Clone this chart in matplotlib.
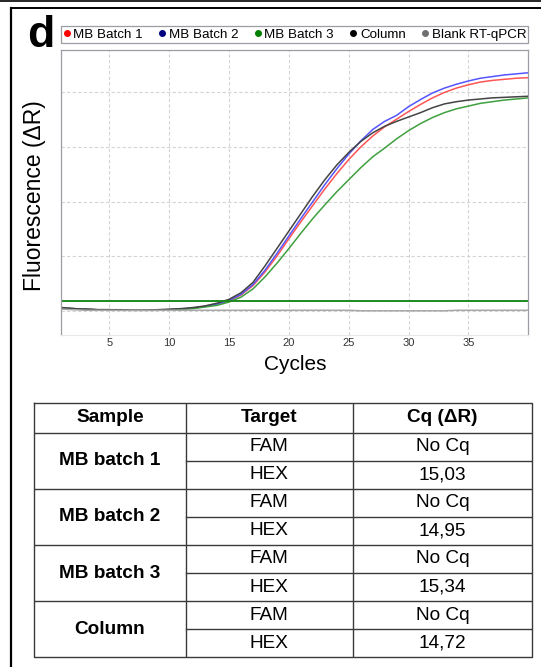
import matplotlib.pyplot as plt
from matplotlib.lines import Line2D
import numpy as np

plt.rcParams['font.family'] = ['Liberation Sans', 'DejaVu Sans']

# curvas de amplificación (ΔR) por ciclo
cycles = np.arange(1, 41)
mb_batch1 = [0.05, 0.04, 0.03, 0.02, 0.02, 0.01, 0.01, 0.01, 0.01, 0.02,
             0.03, 0.05, 0.08, 0.12, 0.18, 0.29, 0.46, 0.71, 1.00, 1.32,
             1.63, 1.93, 2.23, 2.51, 2.77, 3.00, 3.20, 3.37, 3.51, 3.65,
             3.78, 3.90, 4.00, 4.08, 4.14, 4.19, 4.22, 4.24, 4.26, 4.27]
mb_batch2 = [0.05, 0.04, 0.03, 0.02, 0.02, 0.01, 0.01, 0.01, 0.01, 0.02,
             0.03, 0.05, 0.08, 0.12, 0.19, 0.30, 0.48, 0.74, 1.05, 1.37,
             1.69, 2.00, 2.31, 2.60, 2.87, 3.11, 3.32, 3.47, 3.58, 3.74,
             3.87, 3.99, 4.08, 4.15, 4.21, 4.26, 4.29, 4.32, 4.34, 4.36]
mb_batch3 = [0.05, 0.04, 0.03, 0.02, 0.02, 0.01, 0.01, 0.01, 0.01, 0.02,
             0.03, 0.04, 0.07, 0.10, 0.16, 0.25, 0.40, 0.62, 0.87, 1.14,
             1.42, 1.69, 1.94, 2.18, 2.40, 2.62, 2.82, 2.98, 3.15, 3.30,
             3.43, 3.54, 3.63, 3.70, 3.75, 3.80, 3.83, 3.86, 3.88, 3.90]
column = [0.06, 0.04, 0.03, 0.02, 0.02, 0.02, 0.01, 0.01, 0.02, 0.03,
          0.04, 0.06, 0.09, 0.14, 0.21, 0.33, 0.52, 0.82, 1.14, 1.46,
          1.78, 2.10, 2.40, 2.67, 2.90, 3.10, 3.26, 3.38, 3.47, 3.55,
          3.63, 3.72, 3.79, 3.83, 3.86, 3.88, 3.90, 3.91, 3.92, 3.93]
blank = [0.03, 0.02, 0.01, 0.01, 0.01, 0.01, 0.01, 0.01, 0.01, 0.01,
         0.01, 0.01, 0.01, 0.01, 0.01, 0.01, 0.01, 0.01, 0.01, 0.01,
         0.01, 0.01, 0.01, 0.01, 0.01, 0.00, 0.00, 0.00, 0.00, 0.00,
         0.00, 0.00, 0.00, 0.01, 0.01, 0.01, 0.01, 0.01, 0.01, 0.01]
threshold = 0.185

series = [('MB Batch 1', mb_batch1), ('MB Batch 2', mb_batch2),
          ('MB Batch 3', mb_batch3), ('Column', column),
          ('Blank RT-qPCR', blank)]
line_colors = ['#ff5555', '#5555ff', '#3fa03f', '#444444', '#a8a8a8']
dot_colors = ['#ff0000', '#000080', '#008000', '#000000', '#707070']

# tabla de Cq
samples = ['MB batch 1', 'MB batch 2', 'MB batch 3', 'Column']
targets = ['FAM', 'HEX']
cq_values = [['No Cq', '15,03'], ['No Cq', '14,95'],
             ['No Cq', '15,34'], ['No Cq', '14,72']]
headers = ['Sample', 'Target', 'Cq (\u0394R)']

W, H = 541, 667
fig = plt.figure(figsize=(W / 100, H / 100), dpi=100)

# gráfico
ax = fig.add_axes([61.4 / W, 1 - 334.5 / H, (528.3 - 61.4) / W, (334.5 - 50) / H])
for (name, vals), c in zip(series, line_colors):
    ax.plot(cycles, vals, color=c, lw=1.1)
ax.axhline(threshold, color='#1f8a1f', lw=1.4)
ax.set_xlim(1, 40)
ax.set_ylim(-0.434, 4.777)
ax.set_xticks(range(5, 40, 5))
ax.set_yticks(range(0, 5))
ax.set_yticklabels([])
ax.tick_params(length=0, labelsize=8, labelcolor='#333333', pad=2.5)
ax.grid(True, color='#d4d4d4', lw=0.8, ls=(0, (3, 2)))
for s in ['top', 'left', 'right']:
    ax.spines[s].set_color('#9c9ca4')
    ax.spines[s].set_linewidth(0.9)
ax.spines['bottom'].set_color('#e8e8e8')

ax.set_xlabel('Cycles', fontsize=15)
ax.xaxis.set_label_coords(0.5, -(365 - 334.5) / 284.5)
ax.xaxis.label.set_va('center')
ax.set_ylabel('Fluorescence (\u0394R)', fontsize=16.5)
ax.yaxis.set_label_coords(-(61.4 - 35) / 466.9, (334.5 - 195.5) / 284.5)
ax.yaxis.label.set_va('center')

handles = [Line2D([], [], ls='none', marker='o', ms=4, color=c) for c in dot_colors]
leg = ax.legend(handles, [n for n, _ in series], ncol=5, mode='expand',
                loc='lower left', bbox_to_anchor=(0, 1.026, 1, 0.05),
                borderaxespad=0, borderpad=0.15, fontsize=9.6,
                handlelength=0.5, handletextpad=0.25, columnspacing=0.8,
                fancybox=False, framealpha=1)
leg.get_frame().set_edgecolor('#9c9ca4')
leg.get_frame().set_linewidth(0.9)

fig.text(27 / W, 1 - 47 / H, 'd', fontsize=32, fontweight='bold', va='baseline')

# marco del panel
fig.add_artist(Line2D([0, 1], [1 - 0.7 / H, 1 - 0.7 / H], color='black', lw=1.2))
fig.add_artist(Line2D([10.8 / W, 1], [1 - 8.4 / H, 1 - 8.4 / H], color='black', lw=1.4))
fig.add_artist(Line2D([10.8 / W, 10.8 / W], [0, 1 - 8.4 / H], color='black', lw=1.6))

# tabla
col_w = [151.4, 167.0, 179.3]
row_h = [30.0] + [28.1] * 8
col_x = np.concatenate([[0], np.cumsum(col_w)])
row_y = np.concatenate([[0], np.cumsum(row_h)])
tax = fig.add_axes([34.3 / W, 1 - 657.3 / H, col_x[-1] / W, row_y[-1] / H])
tax.set_xlim(0, col_x[-1])
tax.set_ylim(row_y[-1], 0)
tax.axis('off')
tc = '#3a3a3a'
tlw = 1.0
tax.plot([0, col_x[-1], col_x[-1], 0, 0], [0, 0, row_y[-1], row_y[-1], 0],
         color=tc, lw=tlw, clip_on=False)
for x in col_x[1:-1]:
    tax.plot([x, x], [0, row_y[-1]], color=tc, lw=tlw)
for i, y in enumerate(row_y[1:-1], start=1):
    x0 = 0 if i % 2 == 1 else col_x[1]
    tax.plot([x0, col_x[-1]], [y, y], color=tc, lw=tlw)

fs = 13.7
for j, h in enumerate(headers):
    tax.text((col_x[j] + col_x[j + 1]) / 2, row_h[0] / 2, h, ha='center',
             va='center', fontsize=fs, fontweight='bold')
for i, s in enumerate(samples):
    r0 = 1 + 2 * i
    tax.text(col_x[1] / 2, row_y[r0 + 1], s, ha='center', va='center',
             fontsize=fs, fontweight='bold')
    for k in range(2):
        yc = (row_y[r0 + k] + row_y[r0 + k + 1]) / 2
        tax.text((col_x[1] + col_x[2]) / 2, yc, targets[k], ha='center',
                 va='center', fontsize=fs)
        tax.text((col_x[2] + col_x[3]) / 2, yc, cq_values[i][k], ha='center',
                 va='center', fontsize=fs)

fig.savefig('out.png', dpi=100)
